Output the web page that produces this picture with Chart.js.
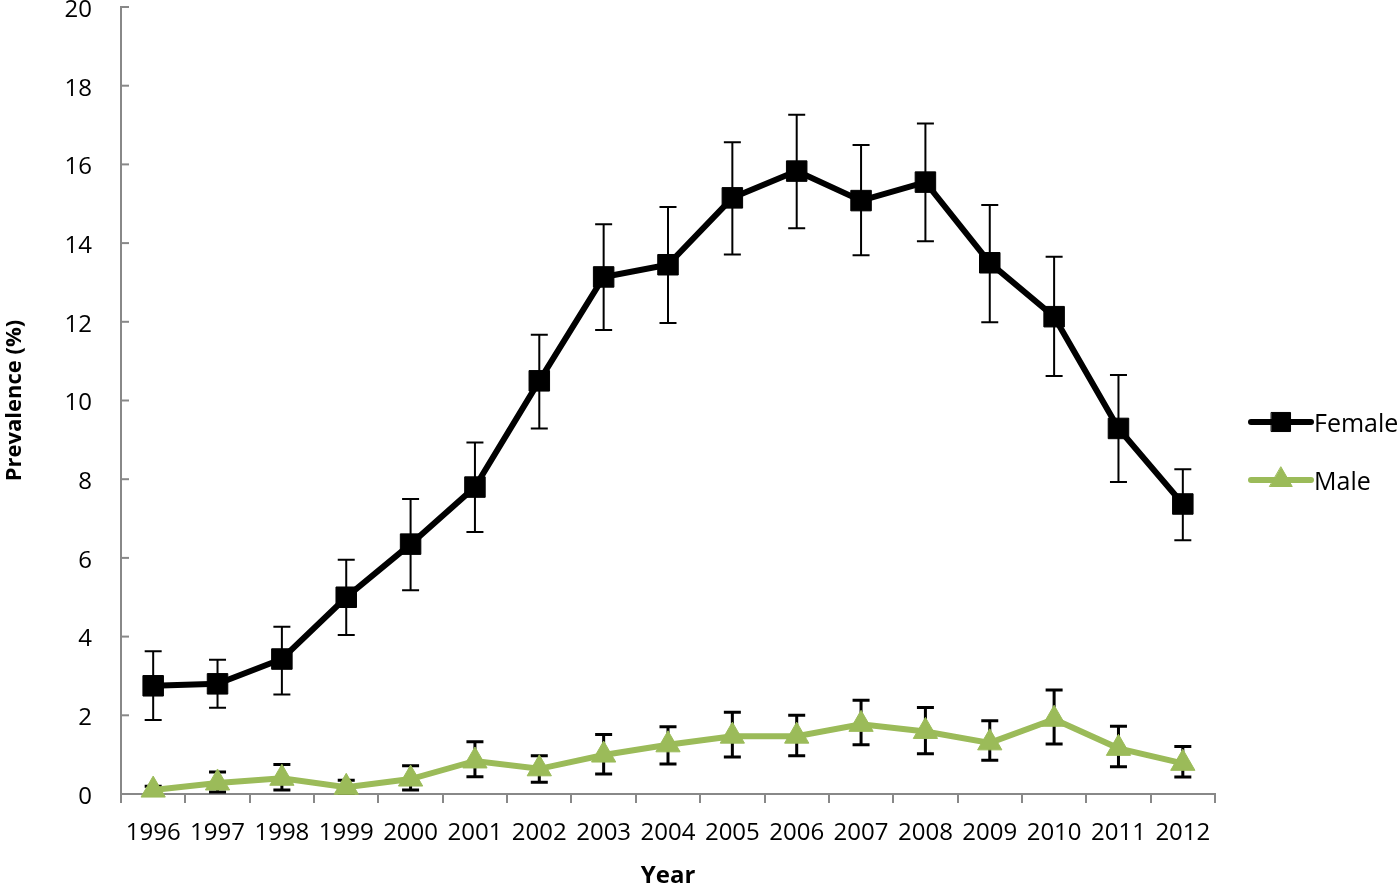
<!DOCTYPE html>
<html>
<head>
<meta charset="utf-8">
<script src="https://cdn.jsdelivr.net/npm/chart.js@4/dist/chart.umd.min.js"></script>
<style>
  html, body { margin: 0; padding: 0; background: #fff; }
  #wrap { width: 1400px; height: 888px; }
</style>
</head>
<body>
<div id="wrap"><canvas id="c" width="1400" height="888"></canvas></div>
<script>
const years = ['1996','1997','1998','1999','2000','2001','2002','2003','2004','2005','2006','2007','2008','2009','2010','2011','2012'];
const yTicks = [0, 2, 4, 6, 8, 10, 12, 14, 16, 18, 20];

const femaleValues = [2.75, 2.80, 3.43, 5.00, 6.35, 7.80, 10.50, 13.14, 13.45, 15.15, 15.83, 15.08, 15.55, 13.50, 12.13, 9.29, 7.37];
const femaleUpper  = [3.63, 3.41, 4.25, 5.95, 7.50, 8.93, 11.67, 14.48, 14.92, 16.56, 17.26, 16.49, 17.04, 14.97, 13.65, 10.65, 8.25];
const femaleLower  = [1.88, 2.19, 2.53, 4.04, 5.18, 6.66, 9.29, 11.79, 11.97, 13.71, 14.38, 13.69, 14.05, 11.99, 10.62, 7.93, 6.45];

const maleValues = [0.10, 0.28, 0.40, 0.17, 0.38, 0.84, 0.64, 0.99, 1.25, 1.47, 1.47, 1.77, 1.59, 1.30, 1.90, 1.16, 0.78];
const maleUpper  = [0.20, 0.56, 0.75, 0.35, 0.72, 1.33, 0.97, 1.51, 1.71, 2.08, 2.00, 2.38, 2.20, 1.86, 2.64, 1.72, 1.21];
const maleLower  = [0.00, 0.05, 0.10, 0.02, 0.10, 0.44, 0.30, 0.51, 0.76, 0.94, 0.97, 1.25, 1.02, 0.86, 1.27, 0.69, 0.43];

const FONT = "'Open Sans', 'DejaVu Sans', sans-serif";
const AXIS_GRAY = '#888888';
const GREEN = '#9BBB59';

const errorBars = [
  { upper: femaleUpper, lower: femaleLower, width: 2, cap: 17 },
  { upper: maleUpper, lower: maleLower, width: 3, cap: 17 }
];

const errorBarPlugin = {
  id: 'errorBars',
  beforeDatasetsDraw(chart) {
    const ctx = chart.ctx;
    const xs = chart.scales.x, ys = chart.scales.y;
    ctx.save();
    ctx.strokeStyle = '#000';
    errorBars.forEach(eb => {
      ctx.lineWidth = eb.width;
      eb.upper.forEach((u, j) => {
        const x = xs.getPixelForValue(j);
        const yt = ys.getPixelForValue(u);
        const yb = ys.getPixelForValue(eb.lower[j]);
        ctx.beginPath();
        ctx.moveTo(x, yt); ctx.lineTo(x, yb);
        ctx.moveTo(x - eb.cap / 2, yt); ctx.lineTo(x + eb.cap / 2, yt);
        ctx.moveTo(x - eb.cap / 2, yb); ctx.lineTo(x + eb.cap / 2, yb);
        ctx.stroke();
      });
    });
    ctx.restore();
  }
};

const innerTicksPlugin = {
  id: 'innerTicks',
  afterDraw(chart) {
    const ctx = chart.ctx;
    const ys = chart.scales.y;
    ctx.save();
    ctx.strokeStyle = AXIS_GRAY;
    ctx.lineWidth = 2;
    ys.ticks.forEach(t => {
      const y = ys.getPixelForValue(t.value);
      ctx.beginPath();
      ctx.moveTo(ys.right, y);
      ctx.lineTo(ys.right + 8, y);
      ctx.stroke();
    });
    ctx.restore();
  }
};

const legendPlugin = {
  id: 'customLegend',
  afterDraw(chart) {
    const ctx = chart.ctx;
    const rows = [{ y: 422 }, { y: 480 }];
    ctx.save();
    chart.data.datasets.forEach((ds, i) => {
      const y = rows[i].y;
      const x0 = 1251, x1 = 1311;
      ctx.strokeStyle = ds.borderColor;
      ctx.lineWidth = ds.borderWidth;
      ctx.lineCap = 'round';
      ctx.beginPath();
      ctx.moveTo(x0, y); ctx.lineTo(x1, y);
      ctx.stroke();
      ctx.fillStyle = ds.pointBackgroundColor;
      ctx.strokeStyle = ds.pointBorderColor;
      ctx.lineWidth = 1;
      Chart.helpers.drawPoint(ctx, { pointStyle: ds.pointStyle, rotation: 0, borderWidth: 1, radius: ds.pointRadius - 1 }, (x0 + x1) / 2, y);
      ctx.fillStyle = '#000';
      ctx.font = "25px " + FONT;
      ctx.textBaseline = 'middle';
      ctx.textAlign = 'left';
      ctx.fillText(ds.label, 1314, y + 3);
    });
    ctx.restore();
  }
};

new Chart(document.getElementById('c'), {
  type: 'line',
  data: {
    labels: years,
    datasets: [
      {
        label: 'Female',
        data: femaleValues,
        borderColor: '#000',
        backgroundColor: '#000',
        borderWidth: 6,
        pointStyle: 'rect',
        pointRadius: 14.5,
        pointBackgroundColor: '#000',
        pointBorderColor: '#000',
        pointBorderWidth: 1,
        tension: 0,
        clip: false
      },
      {
        label: 'Male',
        data: maleValues,
        borderColor: GREEN,
        backgroundColor: GREEN,
        borderWidth: 6,
        pointStyle: 'triangle',
        pointRadius: 14,
        pointBackgroundColor: GREEN,
        pointBorderColor: GREEN,
        pointBorderWidth: 1,
        tension: 0,
        clip: false
      }
    ]
  },
  options: {
    responsive: false,
    animation: false,
    devicePixelRatio: 1,
    layout: { autoPadding: false, padding: { left: 0, top: 7, right: 185, bottom: 0 } },
    plugins: {
      legend: { display: false },
      tooltip: { enabled: false }
    },
    scales: {
      x: {
        type: 'category',
        offset: true,
        grid: { offset: true, drawOnChartArea: false, drawTicks: true, tickLength: 9, color: AXIS_GRAY, lineWidth: 2 },
        border: { display: true, color: AXIS_GRAY, width: 2 },
        ticks: { color: '#000', font: { family: FONT, size: 24 }, padding: 16, maxRotation: 0, autoSkip: false },
        title: { display: true, text: 'Year', color: '#000', font: { family: FONT, size: 24, weight: 'bold', lineHeight: 1 }, padding: { top: 0, bottom: 0 } },
        afterFit(scale) {
          scale.height = 94;
          scale.paddingLeft = 0; scale.paddingRight = 0; scale.paddingTop = 0; scale.paddingBottom = 0;
        }
      },
      y: {
        min: 0,
        max: 20,
        afterBuildTicks(scale) { scale.ticks = yTicks.map(v => ({ value: v })); },
        grid: { drawOnChartArea: false, drawTicks: false },
        border: { display: true, color: AXIS_GRAY, width: 2 },
        ticks: { color: '#000', font: { family: FONT, size: 24, lineHeight: 0.6 }, padding: 29, labelOffset: 3 },
        title: { display: true, text: 'Prevalence (%)', color: '#000', font: { family: FONT, size: 22, weight: 'bold', lineHeight: 1 }, padding: { top: 4, bottom: 0 } },
        afterFit(scale) {
          scale.width = 121;
          scale.paddingLeft = 0; scale.paddingRight = 0; scale.paddingTop = 0; scale.paddingBottom = 0;
        }
      }
    }
  },
  plugins: [errorBarPlugin, innerTicksPlugin, legendPlugin]
});
</script>
</body>
</html>
